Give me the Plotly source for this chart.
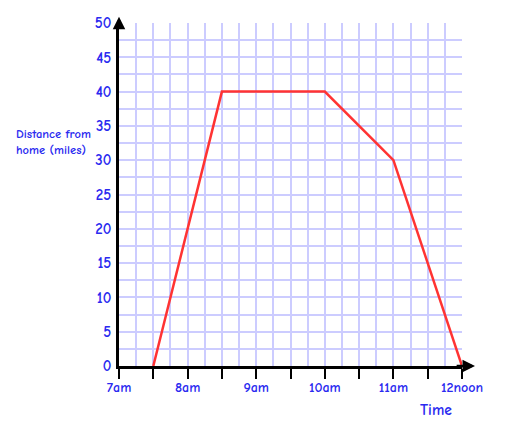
import plotly.graph_objects as go

# Data
time_hours = [7.5, 8.5, 10.0, 11.0, 12.0]
distance_miles = [0, 40, 40, 30, 0]
x_tick_vals = [7, 7.5, 8, 8.5, 9, 9.5, 10, 10.5, 11, 11.5, 12]
x_tick_text = ["7am", "", "8am", "", "9am", "", "10am", "", "11am", "", "12noon"]
y_tick_vals = [0, 5, 10, 15, 20, 25, 30, 35, 40, 45, 50]

FONT = "Comic Sans MS, Comic Neue, Noto Sans, sans-serif"
BLUE = "#2a2af0"
GRID = "#ccccff"

fig = go.Figure()
fig.add_trace(go.Scatter(
    x=time_hours, y=distance_miles, mode="lines",
    line=dict(color="#ff3333", width=2.5),
    cliponaxis=False, hoverinfo="skip"
))

# page has an 8px body margin, so the figure is drawn 8px smaller
fig.update_layout(
    width=502, height=439,
    margin=dict(l=111, r=48, t=15, b=81, autoexpand=False),
    paper_bgcolor="white", plot_bgcolor="white",
    showlegend=False,
    font=dict(family=FONT, color=BLUE, size=15, weight="bold"),
)

fig.update_xaxes(
    range=[7, 12], automargin=False,
    tickmode="array", tickvals=x_tick_vals, ticktext=x_tick_text,
    ticks="outside", ticklen=10, tickwidth=2, tickcolor="black",
    ticklabelstandoff=-4,
    showline=True, linecolor="black", linewidth=2.5,
    showgrid=True, gridcolor=GRID, gridwidth=2,
    minor=dict(tick0=7, dtick=0.25, showgrid=True, gridcolor=GRID, gridwidth=2, ticks=""),
    tickfont=dict(family=FONT, color=BLUE, size=14, weight="bold"),
    zeroline=False,
)
fig.update_yaxes(
    range=[0, 50], automargin=False,
    tickmode="array", tickvals=y_tick_vals,
    ticks="", ticklabelstandoff=2,
    showline=True, linecolor="black", linewidth=2.5,
    showgrid=True, gridcolor=GRID, gridwidth=2,
    minor=dict(tick0=0, dtick=2.5, showgrid=True, gridcolor=GRID, gridwidth=2, ticks=""),
    tickfont=dict(family=FONT, color=BLUE, size=15, weight="bold"),
    zeroline=False,
)

# Axis arrows
fig.add_annotation(x=7, y=50.9, ax=7, ay=49.0, xref="x", yref="y", axref="x", ayref="y",
                   text="", showarrow=True, arrowhead=2, arrowsize=1, arrowwidth=2.5,
                   arrowcolor="black")
fig.add_annotation(x=12.19, y=0, ax=11.9, ay=0, xref="x", yref="y", axref="x", ayref="y",
                   text="", showarrow=True, arrowhead=2, arrowsize=1, arrowwidth=2.5,
                   arrowcolor="black")

# Axis titles (paper coords relative to plot area: x 119..462, y 23..366 px)
fig.add_annotation(
    x=(14 - 119) / 343, y=(366 - 142) / 343, xref="paper", yref="paper",
    xanchor="left", yanchor="middle", align="left",
    text="Distance from<br>home (miles)", showarrow=False,
    font=dict(family=FONT, color=BLUE, size=12.5, weight="bold"),
)
fig.add_annotation(
    x=(436 - 119) / 343, y=(366 - 410) / 343, xref="paper", yref="paper",
    xanchor="center", yanchor="middle",
    text="Time", showarrow=False,
    font=dict(family=FONT, color=BLUE, size=15.5, weight="bold"),
)

fig.write_html("out.html")
